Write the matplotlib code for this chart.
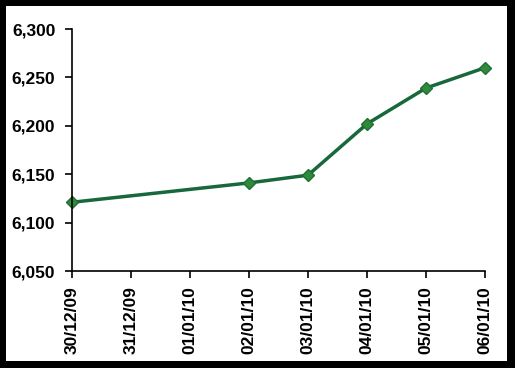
#Index level over the first days of January 2010

import matplotlib.pyplot as plt
from matplotlib.patches import Rectangle

#axis categories (every calendar day shown, data only on trading days)
days = ['30/12/09', '31/12/09', '01/01/10', '02/01/10', '03/01/10', '04/01/10', '05/01/10', '06/01/10']
obs_days = ['30/12/09', '02/01/10', '03/01/10', '04/01/10', '05/01/10', '06/01/10']
obs_vals = [6121, 6141, 6149, 6202, 6239, 6260]

yticks = [6050, 6100, 6150, 6200, 6250, 6300]

plt.rcParams['font.family'] = ['Liberation Sans', 'DejaVu Sans']

fig = plt.figure(figsize=(5.15, 3.68), dpi=100, facecolor='black')
#white panel inside the black frame
fig.patches.append(Rectangle((6/515, 7/368), 501/515, 355/368, transform=fig.transFigure,
                             facecolor='white', edgecolor='none', zorder=-1))

ax = fig.add_axes([72/515, 1-271/368, 413/515, 242/368])
ax.set_facecolor('white')
ax.set_zorder(1)

x = [days.index(d) for d in obs_days]
ax.plot(x, obs_vals, '-', color='#17683a', linewidth=2.5, clip_on=False,
        marker='D', markersize=6, markerfacecolor='#2f8a3c', markeredgecolor='#1f6e33')

ax.set_xlim(0, len(days)-1)
ax.set_ylim(6050, 6300)
ax.set_xticks(range(len(days)))
ax.set_xticklabels(days, rotation=90, fontsize=12.5, fontweight='bold')
ax.set_yticks(yticks)
ax.set_yticklabels([f'{v:,}' for v in yticks], fontsize=12.5, fontweight='bold')

ax.spines['top'].set_visible(False)
ax.spines['right'].set_visible(False)
ax.spines['left'].set_linewidth(1.2)
ax.spines['bottom'].set_linewidth(1.2)
ax.tick_params(axis='both', direction='out', length=5, width=1.2)
ax.tick_params(axis='x', pad=6)
ax.tick_params(axis='y', pad=7)

fig.savefig('out.png', dpi=100, facecolor='black')
